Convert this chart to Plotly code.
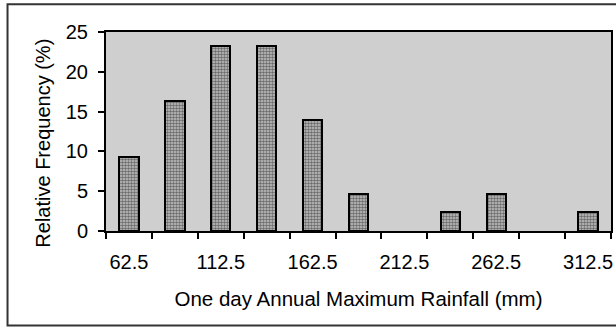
import plotly.graph_objects as go

# Data
class_mid = [62.5, 87.5, 112.5, 137.5, 162.5, 187.5, 212.5, 237.5, 262.5, 287.5, 312.5]
rel_freq = [9.3, 16.3, 23.3, 23.3, 14.0, 4.65, 0.0, 2.33, 4.65, 0.0, 2.33]
x_labels = [62.5, 112.5, 162.5, 212.5, 262.5, 312.5]
y_ticks = [0, 5, 10, 15, 20, 25]

FONT = "Liberation Sans, Arial, sans-serif"

outline_w = [2 if v > 0 else 0 for v in rel_freq]

fig = go.Figure()
fig.add_trace(go.Bar(
    x=class_mid, y=rel_freq, width=10.5,
    marker=dict(
        color="#bdbdbd",
        line=dict(color="black", width=outline_w),
        pattern=dict(shape=".", fgcolor="#111111", bgcolor="#c4c4c4", size=3, solidity=0.55),
    ),
    showlegend=False,
))

fig.update_layout(
    width=616, height=329,
    margin=dict(l=106, r=3, t=32, b=98),
    paper_bgcolor="white",
    plot_bgcolor="#cfcfcf",
    font=dict(family=FONT, color="black"),
    bargap=0,
    xaxis=dict(
        range=[50, 325],
        tickmode="array", tickvals=x_labels, ticktext=[str(v) for v in x_labels],
        ticks="",
        tickfont=dict(size=20),
        showgrid=False, zeroline=False,
        showline=True, linecolor="black", linewidth=2, mirror=True,
        minor=dict(tick0=50, dtick=25, ticks="outside", ticklen=6, tickcolor="black", tickwidth=1.5, showgrid=False),
        title=dict(text="One day Annual Maximum Rainfall (mm)", font=dict(size=20.5), standoff=20),
        ticklabelstandoff=12,
    ),
    yaxis=dict(
        range=[0, 25],
        tickmode="array", tickvals=y_ticks,
        ticks="outside", ticklen=6, tickcolor="black", tickwidth=1.5,
        tickfont=dict(size=20),
        showgrid=False, zeroline=False,
        showline=True, linecolor="black", linewidth=2, mirror=True,
        ticklabelstandoff=6,
    ),
    annotations=[dict(
        text="Relative Frequency (%)", textangle=-90,
        xref="paper", yref="paper", x=-0.1243, y=0.44,
        xanchor="center", yanchor="middle", showarrow=False,
        font=dict(size=20),
    )],
    shapes=[dict(
        type="rect", xref="paper", yref="paper",
        x0=-0.195, x1=1.05, y0=-0.475, y1=1.14,
        line=dict(color="#333333", width=2), fillcolor="rgba(0,0,0,0)", layer="below",
    )],
)

fig.write_html("out.html")
